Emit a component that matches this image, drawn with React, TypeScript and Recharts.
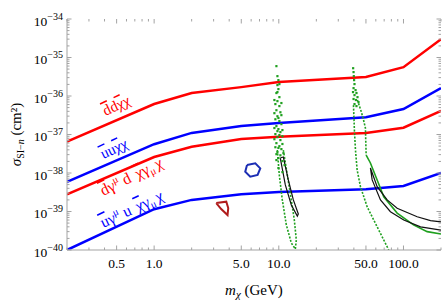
import React from "react";
import { ComposedChart, XAxis, YAxis, Line, Scatter, ReferenceDot } from "recharts";

// kink masses (GeV) of the four limit curves
const mass = [0.2, 1, 2, 5, 10, 50, 100, 200];
const ddScalar = [6.5e-38, 6.2e-37, 1.2e-36, 1.7e-36, 2.3e-36, 3.1e-36, 5.6e-36, 3.0e-35];
const uuScalar = [5.9e-39, 5.6e-38, 1.1e-37, 1.66e-37, 2.0e-37, 2.8e-37, 4.6e-37, 1.6e-36];
const ddVector = [2.8e-39, 2.6e-38, 4.8e-38, 7.6e-38, 8.7e-38, 1.1e-37, 1.5e-37, 4.1e-37];
const uuVector = [1.0e-40, 1.15e-39, 2.0e-39, 2.8e-39, 3.2e-39, 3.8e-39, 4.6e-39, 1.0e-38];

// green points near 10 GeV
const greenAm = [9.55, 9.91, 9.73, 9.91, 9.55, 10.09, 9.73, 9.37, 10.09, 9.55, 10.28, 9.73, 9.37, 10.09, 10.47, 9.55, 9.91, 10.28, 9.37, 9.73, 10.28, 9.55, 10.09, 10.47, 9.73, 10.28, 9.91, 10.67, 9.91, 9.73, 10.09, 9.91, 9.55, 10.67,
  9.2, 10.47, 9.2, 10.47, 9.2, 10.67, 9.2, 10.67, 9.37, 10.87, 9.55, 11.1, 9.91, 10.67, 9.73, 10.09, 9.73];
const greenAs = [6.0e-36, 2.6e-36, 1.93e-36, 1.52e-36, 1.2e-36, 9.4e-37, 7.4e-37, 6.2e-37, 5.5e-37, 4.3e-37, 3.8e-37, 3.0e-37, 2.5e-37, 2.24e-37, 1.87e-37, 1.66e-37, 1.39e-37, 1.16e-37, 1.03e-37, 8.6e-38, 7.2e-38, 6.0e-38, 5.0e-38, 4.2e-38, 3.5e-38, 2.9e-38, 2.45e-38, 2.05e-38, 2.7e-37, 1.23e-37, 9.7e-38, 4.5e-38, 3.1e-38, 5.7e-38,
  7.9e-37, 6.6e-37, 3.6e-37, 3.2e-37, 1.48e-37, 1.31e-37, 7.6e-38, 9.1e-38, 4.7e-38, 3.3e-38, 2.18e-38, 1.61e-38, 1.35e-38, 1.06e-38, 1.27e-36, 2.05e-36, 3.3e-36];
// dotted green loop below it
const loopAm = [9.73, 10.09, 10.67, 11.49, 12.6, 13.57, 13.82, 13.32, 12.6, 11.7, 10.87];
const loopAs = [3.95e-38, 8.9e-39, 2.0e-39, 4.5e-40, 1.52e-40, 1.06e-40, 1.82e-40, 6.0e-40, 2.0e-39, 8.9e-39, 3.95e-38];
// black contour near 10 GeV
const blackAm = [10.28, 11.28, 12.6, 14.08, 14.34, 13.08, 11.92, 10.87, 10.28];
const blackAs = [2.45e-38, 4.9e-39, 1.48e-39, 7.6e-40, 8.6e-40, 2.0e-39, 6.6e-39, 2.6e-38, 2.45e-38];

// green points near 40 GeV
const greenBm = [39.4, 39.7, 39.9, 40.1, 40.4, 39.7, 41.2, 39.3, 41.9, 40.4, 42.7, 39.7, 41.5, 43.5, 40.4, 41.9];
const greenBs = [5.3e-36, 4.2e-36, 3.3e-36, 2.6e-36, 2.05e-36, 1.61e-36, 1.43e-36, 1.27e-36, 1.2e-36, 1.06e-36, 9.4e-37, 8.4e-37, 7.9e-37, 7.0e-37, 6.2e-37, 5.5e-37];
const leftBm = [39.7, 40.4, 41.2, 42.5, 45.2, 51.1, 61.5, 76.2];
const leftBs = [5.8e-37, 1.31e-37, 3.95e-38, 1.2e-38, 4.4e-39, 1.33e-39, 4.0e-40, 1.0e-40];
const rightTopM = [42.7, 46.0, 47.8, 49.5, 50.2];
const rightTopS = [7.9e-37, 3.8e-37, 2.4e-37, 1.48e-37, 2.9e-38];
const rightLowM = [50.2, 54.3, 61.5, 69.5, 89.0, 120.3, 155, 200];
const rightLowS = [2.9e-38, 1.82e-38, 6.6e-39, 2.42e-39, 9.1e-40, 4.5e-40, 3.0e-40, 2.6e-40];
// black contour above 50 GeV (open at the right edge)
const blackBm = [200, 137, 100.5, 78.6, 65.4, 56.1, 54.3, 61.5, 74.0, 89.0, 128.8, 164.8, 200];
const blackBs = [3.3e-40, 4.0e-40, 6.0e-40, 9.9e-40, 2.0e-39, 6.6e-39, 1.35e-38, 4.4e-39, 2.0e-39, 1.21e-39, 7.3e-40, 5.8e-40, 5.4e-40];

// small closed regions
const hexM = [5.56, 6.48, 7.1, 6.76, 5.9, 5.38, 5.56];
const hexS = [1.61e-38, 1.79e-38, 1.32e-38, 8.9e-39, 8.0e-39, 1.08e-38, 1.61e-38];
const triM = [3.15, 3.79, 3.93, 3.88, 3.45, 3.15];
const triS = [1.66e-39, 1.8e-39, 1.23e-39, 8.1e-40, 1.16e-39, 1.66e-39];

const xTicks = [0.2, 0.3, 0.4, 0.5, 0.6, 0.7, 0.8, 0.9, 1, 2, 3, 4, 5, 6, 7, 8, 9, 10, 20, 30, 40, 50, 60, 70, 80, 90, 100, 200];
const xLabeled = [0.5, 1, 5, 10, 50, 100];
const yDecades = [-40, -39, -38, -37, -36, -35, -34];

const yTicks: number[] = [];
yDecades.forEach((d) => {
  if (d === -34) {
    yTicks.push(1e-34);
    return;
  }
  for (let k = 1; k <= 9; k++) yTicks.push(k * Math.pow(10, d));
});

const pts = (m: number[], s: number[]) => m.map((v, i) => ({ m: v, s: s[i] }));

const W = 445;
const H = 303;
const margin = { top: 19, right: 4, bottom: 0, left: 0 };
const XH = 53;
const YW = 67;
const TOP = margin.top;
const BOTTOM = H - XH;
const LEFT = YW;
const RIGHT = W - margin.right;

const serif = "Liberation Serif";
const frame = "#a3a3a3";
const red = "#ff0000";
const blue = "#0000ff";
const green = "#1fa01f";

function XTick(props: any) {
  const cx = props.x;
  const v = props.payload.value;
  const major = xLabeled.includes(v);
  const len = major ? 4.5 : 2.5;
  return (
    <g>
      <line x1={cx} x2={cx} y1={BOTTOM} y2={BOTTOM - len} stroke={frame} />
      <line x1={cx} x2={cx} y1={TOP} y2={TOP + len} stroke={frame} />
      {major && (
        <text x={cx} y={BOTTOM + 18} textAnchor="middle" fontSize={13.5} fontFamily={serif} fill="#000">
          {v.toFixed(1)}
        </text>
      )}
    </g>
  );
}

function YTick(props: any) {
  const cy = props.y;
  const v = props.payload.value;
  const lg = Math.log10(v);
  const major = Math.abs(lg - Math.round(lg)) < 1e-6;
  const len = major ? 4.5 : 2.5;
  return (
    <g>
      <line x1={LEFT} x2={LEFT + len} y1={cy} y2={cy} stroke={frame} />
      <line x1={RIGHT} x2={RIGHT - len} y1={cy} y2={cy} stroke={frame} />
      {major && (
        <text x={LEFT - 4} y={cy + 6.5} textAnchor="end" fontSize={13.5} fontFamily={serif} fill="#000">
          10
          <tspan dy={-6} fontSize={10}>
            {"\u2212" + Math.abs(Math.round(lg))}
          </tspan>
        </text>
      )}
    </g>
  );
}

function XTitle(props: any) {
  const vb = props.viewBox;
  const cx = vb.x + vb.width / 2;
  return (
    <text x={cx} y={vb.y + 45} textAnchor="middle" fontSize={15} fontFamily={serif} fill="#000">
      <tspan fontStyle="italic">m</tspan>
      <tspan dy={3} fontSize={11} fontStyle="italic">χ</tspan>
      <tspan dy={-3}> (GeV)</tspan>
    </text>
  );
}

function YTitle(props: any) {
  const vb = props.viewBox;
  const cy = vb.y + vb.height / 2;
  const x = 21;
  return (
    <g transform={`translate(${x} ${cy}) rotate(-90)`}>
      <text x={0} y={0} textAnchor="middle" fontSize={15} fontFamily={serif} fill="#000">
        <tspan fontStyle="italic">σ</tspan>
        <tspan dy={3} fontSize={10}>SI−</tspan>
        <tspan fontSize={10} fontStyle="italic">n</tspan>
        <tspan dy={-3}> (cm²)</tspan>
      </text>
    </g>
  );
}

const Ov = ({ t }: { t: string }) => <tspan style={{ textDecoration: "overline" }}>{t}</tspan>;

// label anchored at the left end of its baseline
function CurveLabel(props: any) {
  const vb = props.viewBox;
  const cx = vb.x + vb.width / 2;
  const cy = vb.y + vb.height / 2;
  return (
    <g transform={`translate(${cx} ${cy}) rotate(${props.rot})`}>
      <text x={0} y={0} textAnchor="start" fill={props.tone} fontSize={props.size || 15} fontFamily={serif}>
        {props.body}
      </text>
    </g>
  );
}

const vectorBody = (q: string) => (
  <>
    <Ov t={q} />γ<tspan dy={-6} fontSize={10.5}>μ</tspan>
    <tspan dy={6} dx={4}>{q}</tspan>
    <tspan dx={6}>
      <Ov t="χ" />
    </tspan>
    γ<tspan dy={3} fontSize={10.5}>μ</tspan>
    <tspan dy={-3} dx={2}>χ</tspan>
  </>
);

const Sq = (p: any) => <rect x={p.cx - 1} y={p.cy - 1} width={2.2} height={2.2} fill={green} />;

export default function App() {
  return (
    <div style={{ position: "absolute", left: 0, top: 0 }}>
      <ComposedChart width={W} height={H} margin={margin}>
        <XAxis
          dataKey="m"
          type="number"
          scale="log"
          domain={[0.2, 200]}
          allowDataOverflow
          ticks={xTicks}
          interval={0}
          height={XH}
          tickLine={false}
          axisLine={{ stroke: frame }}
          tick={<XTick />}
          label={<XTitle />}
        />
        <XAxis xAxisId="top" orientation="top" type="number" scale="log" domain={[0.2, 200]} height={0} tick={false} tickLine={false} axisLine={{ stroke: frame }} />
        <YAxis
          dataKey="s"
          type="number"
          scale="log"
          domain={[1e-40, 1e-34]}
          allowDataOverflow
          ticks={yTicks}
          interval={0}
          width={YW}
          tickLine={false}
          axisLine={{ stroke: frame }}
          tick={<YTick />}
          label={<YTitle />}
        />
        <YAxis yAxisId="right" orientation="right" type="number" scale="log" domain={[1e-40, 1e-34]} width={0} tick={false} tickLine={false} axisLine={{ stroke: frame }} />

        <Line data={pts(mass, ddScalar)} dataKey="s" stroke={red} strokeWidth={2.5} dot={false} isAnimationActive={false} />
        <Line data={pts(mass, uuScalar)} dataKey="s" stroke={blue} strokeWidth={2.5} dot={false} isAnimationActive={false} />
        <Line data={pts(mass, ddVector)} dataKey="s" stroke={red} strokeWidth={2.5} dot={false} isAnimationActive={false} />
        <Line data={pts(mass, uuVector)} dataKey="s" stroke={blue} strokeWidth={2.5} dot={false} isAnimationActive={false} />

        <Line data={pts(hexM, hexS)} dataKey="s" stroke="#1c2eb4" strokeWidth={2} dot={false} isAnimationActive={false} />
        <Line data={pts(triM, triS)} dataKey="s" stroke="#b01c1c" strokeWidth={2} dot={false} isAnimationActive={false} />

        <Line data={pts(loopAm, loopAs)} dataKey="s" stroke={green} strokeWidth={1.6} strokeDasharray="2 1.5" dot={false} isAnimationActive={false} />
        <Line data={pts(leftBm, leftBs)} dataKey="s" stroke={green} strokeWidth={1.6} strokeDasharray="2 1.5" dot={false} isAnimationActive={false} />
        <Line data={pts(rightTopM, rightTopS)} dataKey="s" stroke={green} strokeWidth={1.6} strokeDasharray="2 1.5" dot={false} isAnimationActive={false} />
        <Line data={pts(rightLowM, rightLowS)} dataKey="s" stroke={green} strokeWidth={1.6} dot={false} isAnimationActive={false} />
        <Scatter data={pts(greenAm, greenAs)} shape={<Sq />} isAnimationActive={false} />
        <Scatter data={pts(greenBm, greenBs)} shape={<Sq />} isAnimationActive={false} />

        <Line data={pts(blackAm, blackAs)} dataKey="s" stroke="#111" strokeWidth={1.2} dot={false} isAnimationActive={false} />
        <Line data={pts(blackBm, blackBs)} dataKey="s" stroke="#111" strokeWidth={1.2} dot={false} isAnimationActive={false} />

        <ReferenceDot x={0.408} y={3.03e-37} r={1} fill="none" stroke="none"
          label={<CurveLabel rot={-25} tone={red} body={<><Ov t="d" />d<Ov t="χ" />χ</>} />} />
        <ReferenceDot x={0.39} y={2.3e-38} r={1} fill="none" stroke="none"
          label={<CurveLabel rot={-25} tone={blue} body={<><Ov t="u" />u<Ov t="χ" />χ</>} />} />
        <ReferenceDot x={0.39} y={2.53e-39} r={1} fill="none" stroke="none"
          label={<CurveLabel rot={-26} size={16} tone={red} body={vectorBody("d")} />} />
        <ReferenceDot x={0.39} y={3.72e-40} r={1} fill="none" stroke="none"
          label={<CurveLabel rot={-25} size={16} tone={blue} body={vectorBody("u")} />} />
      </ComposedChart>
    </div>
  );
}
